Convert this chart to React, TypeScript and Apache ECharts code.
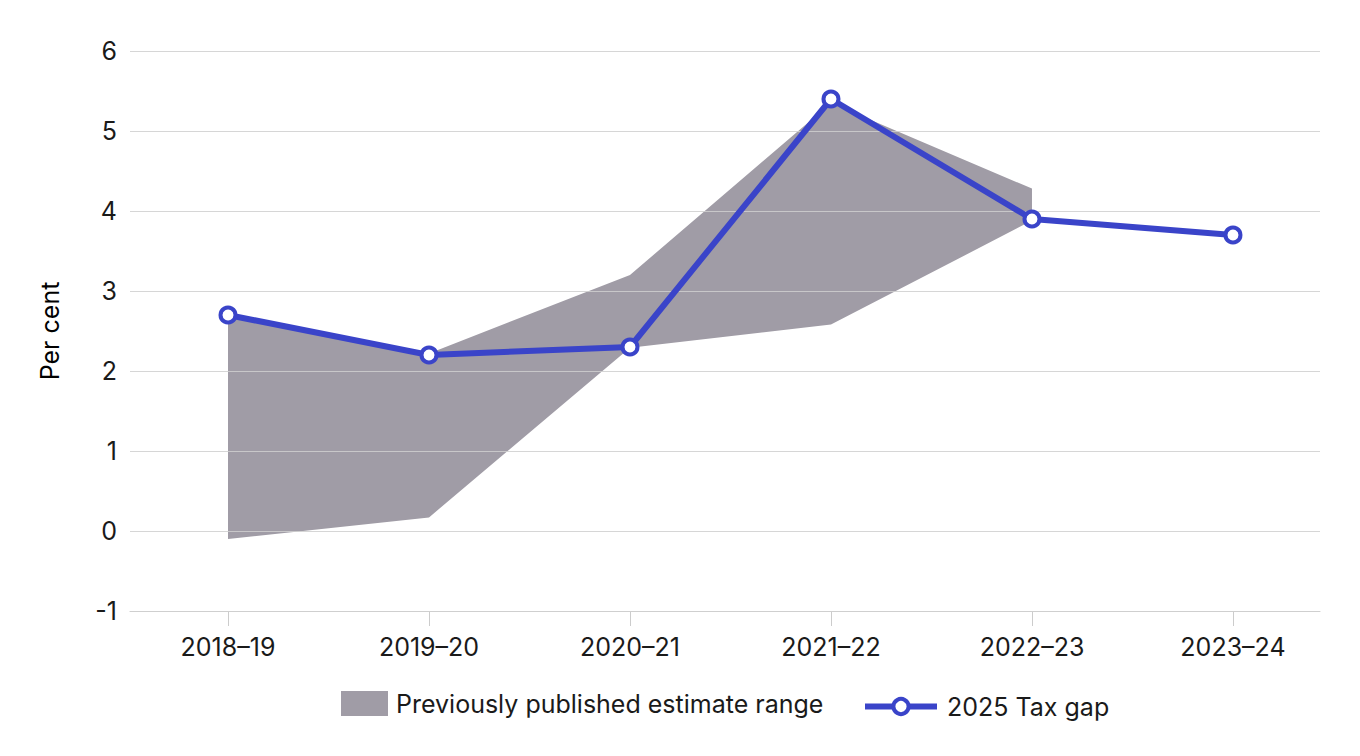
import React, { useEffect, useRef } from "react";
import * as echarts from "echarts";

const categories = ["2018–19", "2019–20", "2020–21", "2021–22", "2022–23", "2023–24"];
const bandLower = [-0.1, 0.17, 2.29, 2.58, 3.88];
const bandUpper = [2.7, 2.22, 3.2, 5.35, 4.28];
const taxGap = [2.7, 2.2, 2.3, 5.4, 3.9, 3.7];
const yTicks = [-1, 0, 1, 2, 3, 4, 5, 6];

const BAND_NAME = "Previously published estimate range";
const LINE_NAME = "2025 Tax gap";
const FONT = "Inter, 'Noto Sans', sans-serif";
const BAND_COLOR = "#a09ca6";
const LINE_COLOR = "#3a44c9";
const TEXT_COLOR = "#1a1a1a";
const WEIGHT = 400;

export default function App() {
  const ref = useRef<HTMLDivElement>(null);
  useEffect(() => {
    document.body.style.margin = "0";
    if (!ref.current) return;
    const chart = echarts.init(ref.current, undefined, { renderer: "svg" });
    const idx = categories.map((_, i) => i);
    const bandData = bandLower.map((v, i) => [i, v, bandUpper[i]]);
    const option = {
      animation: false,
      backgroundColor: "#ffffff",
      textStyle: { fontFamily: FONT },
      grid: { left: 130, right: 40, top: 51, bottom: 145 },
      legend: [
        {
          left: 341,
          top: 691,
          padding: 0,
          itemWidth: 47,
          itemHeight: 25,
          data: [{ name: BAND_NAME, icon: "rect", itemStyle: { color: BAND_COLOR } }],
          textStyle: { fontSize: 25, color: TEXT_COLOR, fontWeight: WEIGHT, fontFamily: FONT, padding: [0, 0, 0, 3] },
          selectedMode: false,
        },
        {
          left: 862,
          top: 694,
          padding: 0,
          itemWidth: 72,
          itemHeight: 19,
          data: [{ name: LINE_NAME }],
          lineStyle: { width: 6, color: LINE_COLOR },
          itemStyle: { color: "#ffffff", borderColor: LINE_COLOR, borderWidth: 4 },
          textStyle: { fontSize: 25, color: TEXT_COLOR, fontWeight: WEIGHT, fontFamily: FONT, padding: [0, 0, 0, 5] },
          selectedMode: false,
        },
      ],
      xAxis: {
        type: "value",
        min: -0.4876,
        max: 5.433,
        axisLine: { show: true, onZero: false, lineStyle: { color: "#cccccc", width: 1 } },
        axisTick: {
          show: true,
          customValues: idx,
          length: 15,
          lineStyle: { color: "#cccccc", width: 1 },
        },
        axisLabel: {
          customValues: idx,
          formatter: (v: number) => categories[Math.round(v)] ?? "",
          fontSize: 25,
          fontWeight: WEIGHT,
          color: TEXT_COLOR,
          fontFamily: FONT,
          margin: 23,
        },
        splitLine: { show: false },
      },
      yAxis: {
        type: "value",
        min: -1,
        max: 6,
        interval: 1,
        z: 3,
        name: "Per cent",
        nameLocation: "middle",
        nameGap: 68,
        nameRotate: 90,
        nameTextStyle: { fontSize: 25, color: "#000000", fontFamily: FONT },
        axisLine: { show: false },
        axisTick: { show: false },
        axisLabel: {
          fontSize: 25,
          fontWeight: WEIGHT,
          color: TEXT_COLOR,
          fontFamily: FONT,
          margin: 13,
          formatter: (v: number) => (yTicks.includes(v) ? String(v) : ""),
        },
        splitLine: { show: true, lineStyle: { color: "#cfcfcf", width: 1, opacity: 0.85 } },
      },
      series: [
        {
          name: BAND_NAME,
          type: "custom",
          data: bandData,
          encode: { x: 0, y: [1, 2] },
          silent: true,
          z: 1,
          itemStyle: { color: BAND_COLOR },
          renderItem: (params: any, api: any) => {
            if (params.dataIndex !== 0) return null;
            const top = bandData.map((d) => api.coord([d[0], d[2]]));
            const bottom = bandData.map((d) => api.coord([d[0], d[1]])).reverse();
            return {
              type: "polygon",
              shape: { points: top.concat(bottom) },
              style: { fill: BAND_COLOR },
            };
          },
        },
        {
          name: LINE_NAME,
          type: "line",
          data: taxGap.map((v, i) => [i, v]),
          symbol: "circle",
          symbolSize: 15,
          lineStyle: { color: LINE_COLOR, width: 6 },
          itemStyle: { color: "#ffffff", borderColor: LINE_COLOR, borderWidth: 4 },
          z: 5,
        },
      ],
    };
    chart.setOption(option as any);
    return () => chart.dispose();
  }, []);
  return <div ref={ref} style={{ width: 1360, height: 756 }} />;
}
